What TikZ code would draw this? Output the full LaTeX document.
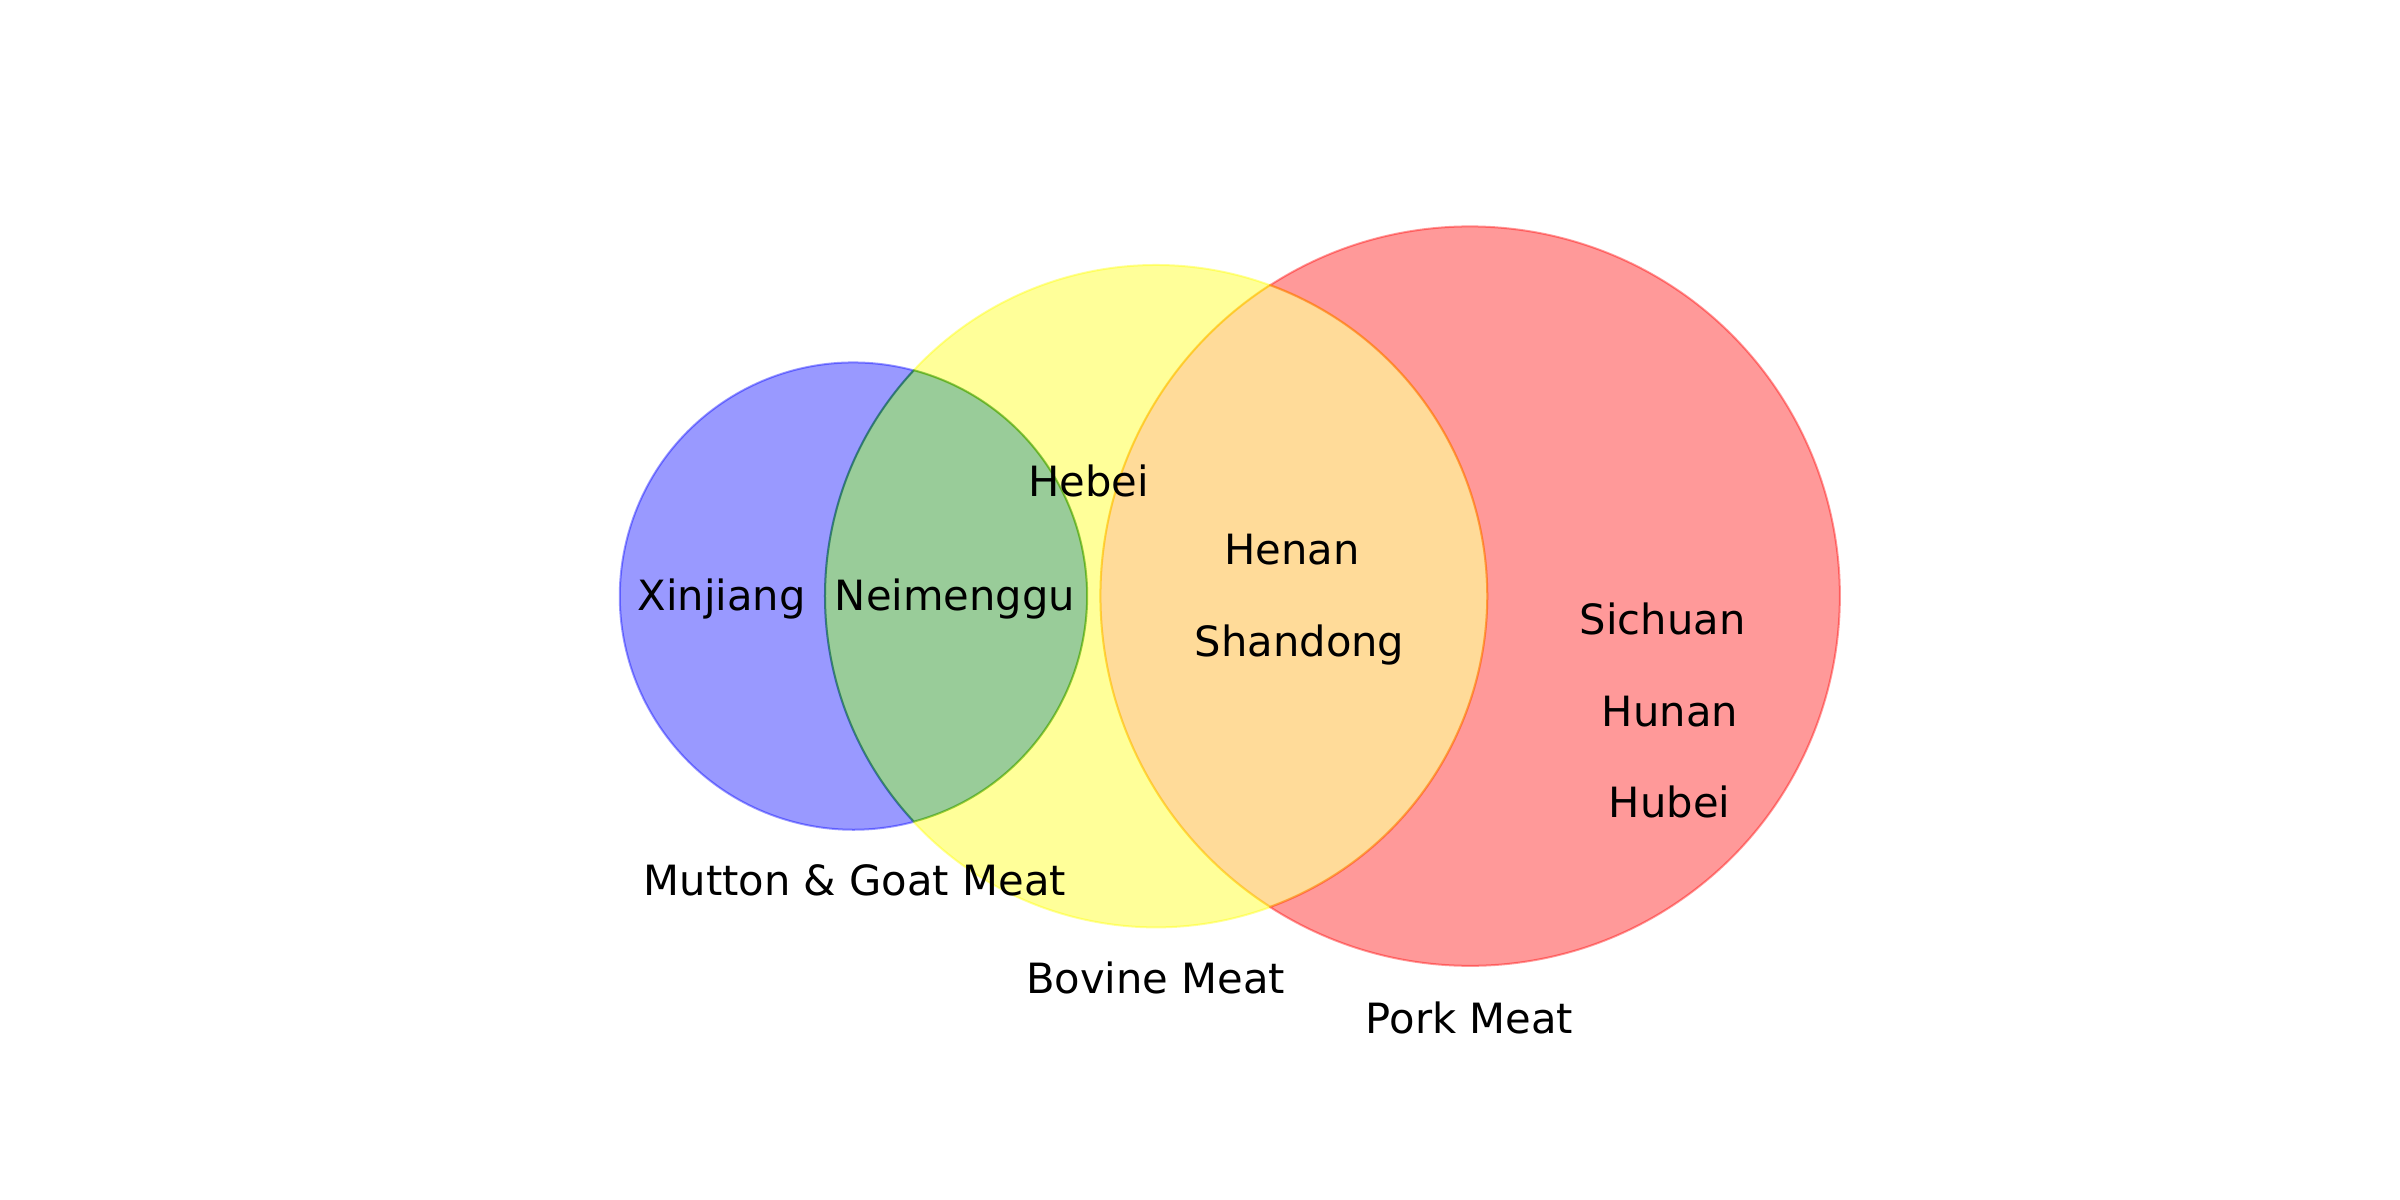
\documentclass[tikz,border=0pt]{standalone}
\usepackage{fontspec}
\setmainfont{DejaVu Sans}
\definecolor{cblue}{rgb}{0,0,1}
\definecolor{cyel}{rgb}{1,1,0}
\definecolor{cred}{rgb}{1,0,0}
\definecolor{cgreen}{rgb}{0,0.5,0}
\definecolor{corange}{rgb}{1,0.647,0}
\tikzset{
  region/.style={fill=#1, draw=#1, fill opacity=0.4, draw opacity=0.4, line width=0.02cm, line join=round},
  lbl/.style={anchor=base, inner sep=0pt, font=\fontsize{11.85pt}{14pt}\selectfont, text=black}
}
\begin{document}
\begin{tikzpicture}[x=0.01cm, y=0.01cm]
\useasboundingbox (0,0) rectangle (2400,1200);
\fill[white] (0,0) rectangle (2400,1200);
% blue only
\path[region=cblue] (913.78,829.58) arc[start angle=75.04, end angle=284.96, radius=2.335cm]
  arc[start angle=222.96, end angle=137.04, radius=3.31cm] -- cycle;
% yellow only
\path[region=cyel] (1270.06,914.73) arc[start angle=69.85, end angle=137.04, radius=3.31cm]
  arc[start angle=75.04, end angle=-75.04, radius=2.335cm]
  arc[start angle=222.96, end angle=290.15, radius=3.31cm]
  arc[start angle=237.24, end angle=122.76, radius=3.695cm] -- cycle;
% blue and yellow
\path[region=cgreen] (913.78,378.42) arc[start angle=-75.04, end angle=75.04, radius=2.335cm]
  arc[start angle=137.04, end angle=222.96, radius=3.31cm] -- cycle;
% red only
\path[region=cred] (1270.06,914.73) arc[start angle=122.76, end angle=-122.76, radius=3.695cm]
  arc[start angle=-69.85, end angle=69.85, radius=3.31cm] -- cycle;
% yellow and red
\path[region=corange] (1270.06,293.27) arc[start angle=-69.85, end angle=69.85, radius=3.31cm]
  arc[start angle=122.76, end angle=237.24, radius=3.695cm] -- cycle;

\node[lbl] (xinjiang) at (721.5,589) {Xinjiang};
\node[lbl] (neimenggu) at (955,589) {Neimenggu};
\node[lbl] (hebei) at (1088.5,703.5) {Hebei};
\node[lbl] (henan) at (1292,635) {Henan};
\node[lbl] (shandong) at (1299.5,543) {Shandong};
\node[lbl] (sichuan) at (1662.7,565.3) {Sichuan};
\node[lbl] (hunan) at (1670,473) {Hunan};
\node[lbl] (hubei) at (1669.5,382) {Hubei};
\node[lbl] (mutton) at (854.8,304.7) {Mutton \& Goat Meat};
\node[lbl] (bovine) at (1155.7,206.3) {Bovine Meat};
\node[lbl] (pork) at (1469.4,166) {Pork Meat};
\end{tikzpicture}
\end{document}
